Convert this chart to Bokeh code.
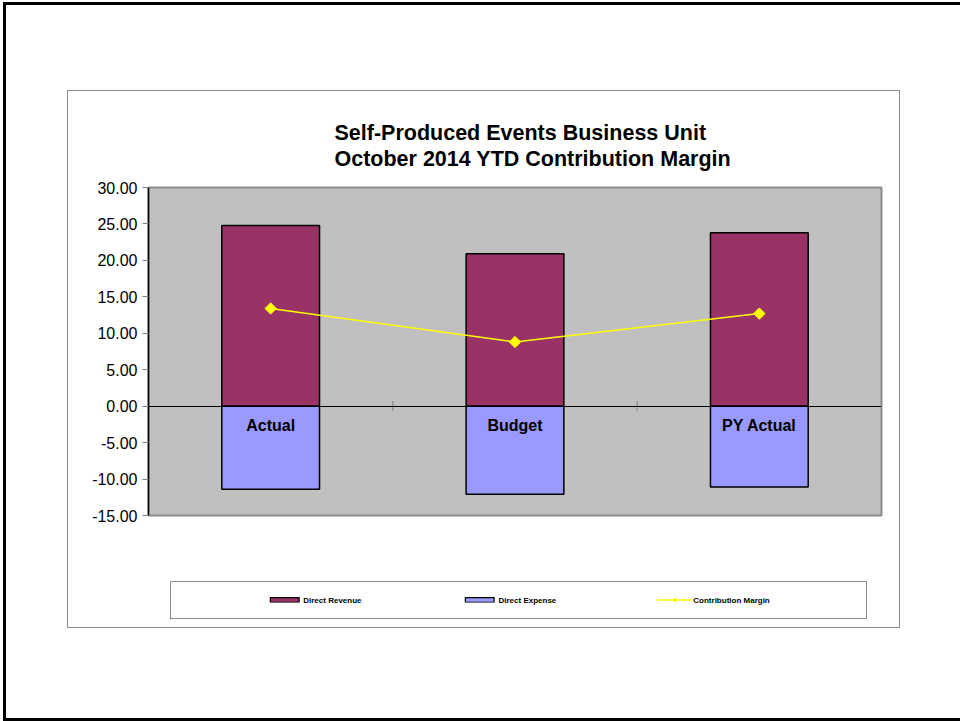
from bokeh.plotting import figure
from bokeh.models import (ColumnDataSource, FixedTicker, NumeralTickFormatter, Title, Legend,
                          LegendItem, Range1d, FactorRange)
from bokeh.layouts import column
from bokeh.transform import dodge
from bokeh.embed import file_html
from bokeh.resources import INLINE

categories = ["Actual", "Budget", "PY Actual"]
direct_revenue = [24.8, 20.9, 23.8]
direct_expense = [-11.4, -12.1, -11.1]
contribution_margin = [13.4, 8.8, 12.7]
y_ticks = [-15, -10, -5, 0, 5, 10, 15, 20, 25, 30]
title_lines = ["Self-Produced Events Business Unit", "October 2014 YTD Contribution Margin"]
legend_labels = ["Direct Revenue", "Direct Expense", "Contribution Margin"]

FONT = "Liberation Sans"
REV_COLOR = "#993366"
EXP_COLOR = "#9999FF"
CM_COLOR = "#FFFF00"

src = ColumnDataSource(dict(cat=categories, rev=direct_revenue, exp=direct_expense,
                            cm=contribution_margin))

p = figure(x_range=FactorRange(*categories), y_range=Range1d(y_ticks[0], y_ticks[-1]),
           width=831, height=470, output_backend="svg", toolbar_location=None,
           min_border_left=80, min_border_right=18, min_border_top=96, min_border_bottom=46,
           background_fill_color="#C0C0C0", border_fill_color="white",
           outline_line_color="#8C8C8C", outline_line_width=2, frame_align=False)
p.grid.visible = False

# Bars
p.vbar(x="cat", top="rev", bottom=0, width=0.4, source=src, fill_color=REV_COLOR,
       line_color="black", line_width=1.5)
p.vbar(x="cat", top="exp", bottom=0, width=0.4, source=src, fill_color=EXP_COLOR,
       line_color="black", line_width=1.5)

# Category boundary tick marks on the zero line
bsrc = ColumnDataSource(dict(cat=categories[:-1]))
TICK = 0.7
p.segment(x0=dodge("cat", 0.5, range=p.x_range), x1=dodge("cat", 0.5, range=p.x_range),
          y0=-TICK, y1=TICK, source=bsrc, line_color="#808080", line_width=1)

p.line(x="cat", y="cm", source=src, line_color=CM_COLOR, line_width=1.5)
p.scatter(x="cat", y="cm", source=src, marker="square", angle=0.785398, size=8,
          fill_color=CM_COLOR, line_color=CM_COLOR)

# Y axis
ya = p.yaxis[0]
ya.ticker = FixedTicker(ticks=y_ticks)
ya.formatter = NumeralTickFormatter(format="0.00")
ya.axis_line_color = "black"
ya.axis_line_width = 1.5
ya.major_tick_line_color = "#808080"
ya.major_tick_in = 0
ya.major_tick_out = 6
ya.minor_tick_line_color = None
ya.major_label_standoff = 5
ya.major_label_text_font = FONT
ya.major_label_text_font_size = "16px"
ya.major_label_text_color = "black"

# Category axis at zero
xa = p.xaxis[0]
xa.fixed_location = 0
xa.axis_line_color = "black"
xa.axis_line_width = 1.2
xa.major_tick_line_color = None
xa.major_tick_in = 0
xa.major_tick_out = 0
xa.major_label_standoff = 11
xa.major_label_text_font = FONT
xa.major_label_text_font_style = "bold"
xa.major_label_text_font_size = "16px"
xa.major_label_text_color = "black"

# Title: one two-line block
title = Title(text="\n".join(title_lines), align="left", offset=186, text_font=FONT,
              text_font_size="21.5px", text_font_style="bold", text_color="black",
              text_line_height=1.08, standoff=33)
p.add_layout(title, "above")

# Legend figure (its frame is the legend box)
lg = figure(width=831, height=66, x_range=Range1d(0, 1), y_range=Range1d(0, 1),
            output_backend="svg", toolbar_location=None,
            x_axis_location=None, y_axis_location=None,
            min_border_left=102, min_border_right=33, min_border_top=20, min_border_bottom=9,
            background_fill_color="white", border_fill_color="white",
            outline_line_color="#8C8C8C", outline_line_width=1, frame_align=False)
lg.grid.visible = False
# one point each, outside the visible range, only so that the legend draws its swatches
hidden = ColumnDataSource(dict(x=[-5], y=[-5]))
r_rev = lg.vbar(x="x", top="y", width=0.4, source=hidden, fill_color=REV_COLOR,
                line_color="black", line_width=1.2)
r_exp = lg.vbar(x="x", top="y", width=0.4, source=hidden, fill_color=EXP_COLOR,
                line_color="black", line_width=1.2)
r_cml = lg.line(x="x", y="y", source=hidden, line_color=CM_COLOR, line_width=1.5)
r_cms = lg.scatter(x="x", y="y", source=hidden, marker="square", angle=0.785398, size=4,
                   fill_color=CM_COLOR, line_color=CM_COLOR)
legend = Legend(items=[LegendItem(label=legend_labels[0], renderers=[r_rev]),
                       LegendItem(label=legend_labels[1], renderers=[r_exp]),
                       LegendItem(label=legend_labels[2], renderers=[r_cml, r_cms])],
                orientation="horizontal", location="center", spacing=100,
                glyph_width=36, glyph_height=6, label_standoff=1,
                label_text_font=FONT, label_text_font_size="8px",
                label_text_font_style="bold", label_text_color="black",
                border_line_color=None, background_fill_alpha=0, padding=0, margin=0)
lg.add_layout(legend, "center")

chart = column(p, lg, styles={"border": "1px solid #8C8C8C"}, margin=(85, 0, 0, 61))
outer = column(chart, width=957, height=719,
               styles={"border-left": "3px solid black", "border-top": "3px solid black",
                       "border-bottom": "3px solid black", "border-right": "none",
                       "margin": "2px 0px -30px 3px"})

open("out.html", "w").write(file_html(outer, INLINE))
